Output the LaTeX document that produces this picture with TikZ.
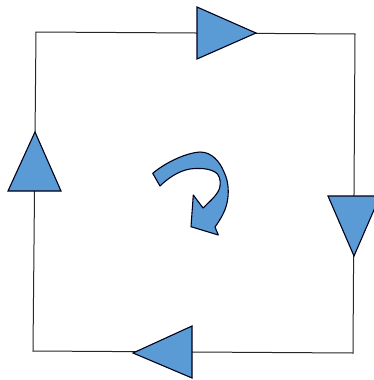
\documentclass[tikz,border=0pt]{standalone}
\begin{document}
\begin{tikzpicture}[x=1pt,y=-1pt,
  edge/.style={draw=black!85, line width=1pt},
  tri/.style={draw=black!90!blue, fill=arrowblue, line width=1.1pt, line join=miter},
  ]
\definecolor{arrowblue}{RGB}{91,155,213}
\useasboundingbox (0,0) rectangle (374,380);
% square frame
\coordinate (tl) at (36,32);
\coordinate (tr) at (355,34);
\coordinate (br) at (353,353);
\coordinate (bl) at (33,351);
\draw[edge] (tl) -- (tr) -- (br) -- (bl) -- cycle;
% direction triangles
\path[tri] (197,7) -- (256,33) -- (197,59) -- cycle;
\path[tri] (35,132) -- (61,191) -- (8,191) -- cycle;
\path[tri] (328,196) -- (380,196) -- (354,256) -- cycle;
\path[tri] (192,326) -- (192,378) -- (133,353) -- cycle;
% curved rotation arrow
\path[tri, line join=round]
  (152.7,173.3)
  .. controls (165,163) and (185,153) .. (200,152)
  .. controls (212,152) and (220,162) .. (224,172)
  .. controls (229,182) and (229,194) .. (227,203)
  .. controls (225,212) and (220,220) .. (215,227)
  -- (218.3,235) -- (191,226.7) -- (193.3,195) -- (203,208)
  .. controls (210,201) and (219,194) .. (220,186)
  .. controls (221,180) and (219,174) .. (215,172)
  .. controls (208,168) and (198,168) .. (190,169)
  .. controls (178,171) and (167,179) .. (160,186)
  -- cycle;
\end{tikzpicture}
\end{document}
